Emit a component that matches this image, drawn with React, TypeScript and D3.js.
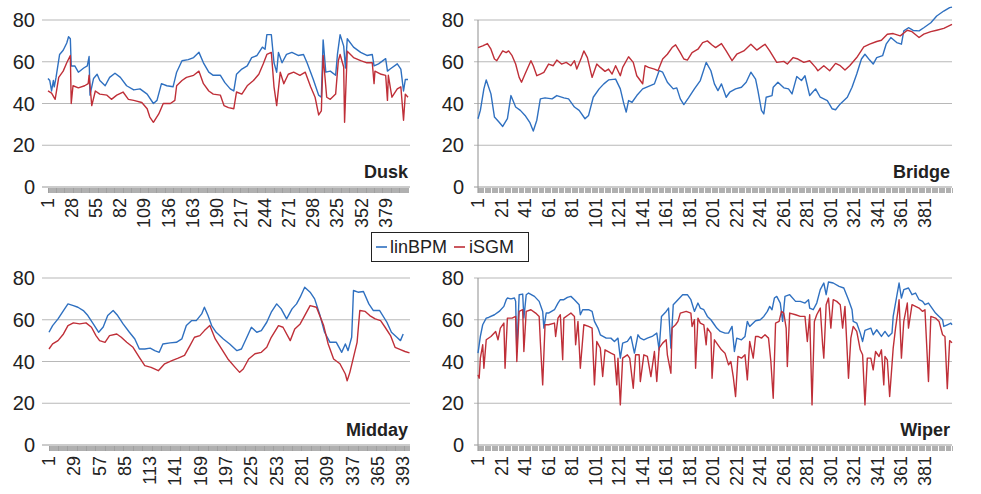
import React from 'react';
import * as d3 from 'd3';

// ---- data : [sample index, value] ----
const duskLinBPM: [number, number][] = [[1,52],[3,51],[5,46],[7,51],[8,48],[10,52.5],[14,63.5],[18,65.5],[22,69],[24,72],[26,71],[27,58],[31,58],[35,55],[41,57],[45,58],[47,62.5],[48,44],[52,52],[56,54],[59,51],[65,48.5],[70,52.5],[76,54.5],[82,52.5],[89,48.5],[97,46.5],[104,47],[112,44.5],[119,40],[123,41.5],[128,49.5],[134,48.5],[141,48],[145,55],[151,60.5],[158,61],[164,62],[170,64.5],[175,59.5],[181,55],[186,53.5],[194,53.5],[199,50],[205,47],[209,46],[212,54],[218,56.5],[224,58],[229,62],[235,63],[241,67],[244,66],[246,73],[251,73],[254,59.5],[257,55],[259,64.5],[263,59.5],[268,63.5],[274,64.5],[281,63],[287,63.5],[291,59.5],[298,51.5],[304,44],[307,43],[309,70.5],[312,55],[317,55.5],[323,53.5],[325,63.5],[328,73],[332,67.5],[334,57],[336,71],[343,67],[351,64.5],[358,63],[364,63.5],[366,58],[371,59],[379,61.5],[381,55.5],[384,56.5],[392,59],[396,56.5],[399,46],[401,51.5],[404,51.5]];
const duskISGM: [number, number][] = [[1,46],[5,45],[9,42],[13,52.5],[18,55.5],[22,59.5],[26,63],[27,40],[29,48.5],[35,47.5],[42,48.5],[46,49.5],[47,53.5],[50,39],[54,46],[59,44.5],[67,44],[72,42],[78,44],[85,45.5],[91,42],[97,41.5],[106,40.5],[112,37.5],[115,33.5],[119,31],[125,35],[130,40],[138,40],[143,41.5],[145,48.5],[151,51],[156,52.5],[164,53.5],[170,55.5],[175,49.5],[181,46],[186,44.5],[194,44],[198,39],[203,38],[209,37.5],[212,45.5],[218,44.5],[224,48.5],[231,51],[237,54],[242,59],[246,63.5],[251,64.5],[254,48],[257,39],[261,55],[265,49.5],[270,54],[276,55],[283,53.5],[289,55],[295,48],[300,43],[304,34.5],[307,36.5],[309,63],[313,43],[317,42],[323,44.5],[326,60.5],[328,63.5],[332,57.5],[333,31],[336,65],[343,62],[351,60.5],[358,59.5],[364,59.5],[366,49.5],[367,55.5],[374,54],[379,53.5],[381,41.5],[382,53.5],[386,43],[392,47],[396,48],[399,32],[401,44.5],[404,43]];

const bridgeLinBPM: [number, number][] = [[1,32.7],[3,36.7],[6,47],[8,51.3],[12,44.6],[15,33.5],[19,31],[22,29],[26,32.7],[29,43.8],[33,38.3],[37,36.7],[41,34.3],[45,31],[48,26.8],[51,32],[54,42.2],[58,42.7],[64,42.2],[68,43.8],[74,42.7],[78,42.2],[83,38.3],[87,36.7],[92,32.7],[95,34.3],[99,43],[104,47],[108,49.4],[112,51.3],[118,51.7],[122,47],[125,39.8],[127,35.9],[129,41.4],[132,40.6],[136,43.8],[141,47],[145,48],[151,49.4],[155,55.7],[158,55],[162,50.2],[167,47],[170,47.5],[173,42.2],[176,39.5],[180,42.7],[185,47],[190,51],[195,59.7],[199,55.7],[202,49.4],[205,46.2],[208,49.4],[212,43],[215,45.4],[220,47],[225,47.8],[229,50.2],[233,55],[237,51.7],[239,46.2],[242,36.7],[244,35],[246,43],[251,43.8],[252,47.8],[256,50.2],[261,47.5],[265,47],[268,44.6],[272,52.9],[276,51],[279,53.3],[283,43.8],[288,47],[292,43],[298,41.4],[302,37.5],[305,37],[309,39.8],[315,43],[319,47.8],[323,54.1],[327,61.3],[330,63.6],[334,60.8],[337,58.9],[340,62],[345,62.9],[348,68.4],[352,71.6],[357,69.2],[361,68.4],[363,74.8],[367,76.3],[371,75],[376,74.8],[380,76.3],[386,78.7],[391,81.9],[397,84.3],[402,85.9],[404,86.2]];
const bridgeISGM: [number, number][] = [[1,66.8],[5,67.6],[9,68.7],[12,66],[15,61.3],[17,60.5],[22,65.2],[25,64.4],[27,65.2],[30,62.9],[33,58.9],[36,52.5],[38,50.2],[41,54.1],[46,60.5],[48,58.1],[51,53.3],[54,54.1],[57,54.9],[61,58.9],[65,58.1],[68,60.8],[72,58.9],[76,59.7],[80,58.1],[83,60.5],[85,56.5],[89,62],[91,65.2],[94,62],[98,52.5],[102,58.9],[105,57.3],[109,55.4],[112,56.5],[115,54.1],[118,58.1],[122,53.3],[124,57.3],[129,62.4],[133,59.7],[136,53.3],[139,51],[141,49.4],[143,58.1],[146,57.3],[151,56.5],[154,55.7],[158,61.3],[162,63.6],[166,66.8],[169,68.1],[173,64.4],[176,61.3],[179,60.8],[183,64.4],[188,66],[192,69.2],[196,70],[200,68],[203,66.8],[208,68.7],[212,65.2],[217,60.5],[221,63.6],[227,65.2],[233,68.4],[238,65.6],[245,68.4],[249,65.2],[255,59.7],[261,60.2],[264,58.9],[269,62],[273,61.3],[278,59.7],[283,60.5],[288,57.3],[290,55.7],[295,58.1],[300,55.7],[305,59.2],[309,58.1],[313,56],[317,58.1],[323,62],[329,67.1],[334,68.4],[340,69.7],[344,70.3],[349,73.2],[354,73.5],[360,72.4],[366,75.1],[370,74.4],[376,71.6],[380,73.2],[386,74.4],[391,75.1],[397,76],[404,77.9]];

const middayLinBPM: [number, number][] = [[1,54],[5,57.2],[11,60.4],[17,64.4],[22,67.6],[28,66.8],[33,66],[39,64.4],[44,62],[50,58],[56,54],[61,56.5],[66,62],[72,64.4],[77,62],[83,58],[90,54],[96,50.8],[101,46],[107,46],[113,46.4],[118,45.2],[123,44.4],[127,48.4],[135,48.9],[142,49.2],[148,50.8],[153,57.2],[159,59.6],[164,59.6],[170,62.8],[173,66],[177,62],[181,57.2],[186,54],[194,50.8],[201,48.4],[209,45.2],[214,46],[220,51.6],[225,56.4],[231,54],[236,54.8],[242,58.8],[247,63.6],[253,67.6],[258,65.2],[264,60.4],[270,65.2],[275,67.6],[279,70.8],[284,75.6],[290,73.2],[295,70],[301,62],[306,54],[312,49.2],[319,49.2],[325,44.4],[329,48.4],[332,45.2],[336,51.6],[338,74],[343,73.2],[349,73.5],[355,67.6],[360,64.4],[367,64.4],[375,58.8],[380,54],[386,51.6],[390,50],[393,53.2]];
const middayISGM: [number, number][] = [[1,46],[5,48.4],[11,50],[17,53.2],[22,57.2],[28,58.5],[35,58],[42,58.5],[48,56.4],[53,52.4],[57,50],[63,49.2],[68,52.4],[76,53.2],[81,51.6],[87,49.2],[94,46.8],[101,42],[107,38],[114,37.2],[122,35.6],[129,38.9],[137,40.4],[144,41.6],[151,42.9],[157,47.6],[162,51.6],[168,52.4],[173,54.8],[179,57.2],[185,50.8],[192,46],[199,41.2],[207,37.2],[212,34.8],[216,36.4],[222,41.2],[229,43.7],[236,44.4],[242,46.8],[247,51.6],[255,57.2],[260,56.4],[268,50],[273,55.6],[279,58],[284,62],[290,66.8],[297,66],[305,57.2],[310,48.4],[316,41.2],[323,38.9],[329,34],[331,30.8],[334,34.8],[338,42],[342,49.2],[345,64.4],[351,64],[356,62],[362,60.4],[368,59.6],[373,56.4],[379,52.4],[384,46.8],[390,45.7],[395,44.8],[400,44.1]];

const wiperLinBPM: [number, number][] = [[1,44],[3,52],[5,57.6],[8,60.8],[10,61.1],[15,62.4],[19,64],[23,66.4],[25,69.6],[26,70.4],[29,70],[32,70.4],[33,68.8],[34,44.8],[36,72],[39,72.3],[40,60.8],[42,72],[44,72.8],[49,71.2],[53,68.8],[56,64],[57,56],[59,63.2],[61,63.2],[66,64.8],[69,68],[71,69.6],[74,69.6],[77,70.7],[80,71.2],[83,69.6],[87,67.2],[88,62.4],[90,64.8],[95,64.8],[98,64],[100,59.2],[103,56],[105,52.8],[110,51.2],[114,51.2],[117,49.6],[120,51.2],[122,41.6],[124,48.8],[128,49.6],[131,52],[134,44],[137,52.8],[139,51.2],[142,50.4],[145,51.2],[149,52],[153,53.6],[155,45.6],[157,61.6],[161,64],[163,65.6],[165,46.4],[167,67.2],[171,69.6],[175,72],[179,72],[182,69.6],[185,64],[188,68],[190,65.6],[193,64.8],[196,61.6],[199,60],[202,57.6],[204,56],[207,54.4],[211,53.6],[214,53.6],[217,56.8],[219,44.8],[221,51.2],[225,50.4],[228,52],[230,59.2],[232,56.8],[237,59.5],[241,60],[244,61.6],[247,64],[249,66.4],[251,64.8],[253,70.4],[255,71.2],[258,68],[260,59.2],[262,71.2],[266,72],[271,68.8],[275,68.8],[279,68],[282,69.6],[283,65.6],[286,64.8],[289,68],[292,74.4],[295,77.6],[297,72],[299,78.1],[303,77.6],[308,76],[312,75.2],[316,69.6],[319,64.8],[320,59.2],[323,58.4],[326,53.6],[328,49.6],[330,54.9],[335,56],[337,52.8],[340,55.2],[344,52],[347,54.4],[350,52],[353,53.6],[354,61.6],[357,71.2],[359,77.6],[361,70.4],[363,74.4],[367,75.2],[370,72],[373,72.8],[376,69.6],[379,68.8],[381,67.2],[384,68],[387,65.6],[390,63.2],[393,61.6],[396,60],[397,56.8],[400,57.6],[403,58.4],[404,57.6]];
const wiperISGM: [number, number][] = [[1,33.6],[2,32],[3,41.6],[5,48],[6,36.8],[8,50.4],[12,52],[16,54.4],[18,50.4],[20,56],[23,58.4],[24,36.8],[26,60.8],[30,60.8],[33,61.6],[34,40],[36,64],[39,64.8],[40,44.8],[42,64],[46,64.8],[50,63.2],[53,61.6],[54,49.6],[56,28.8],[58,57.6],[61,57.6],[66,58.4],[67,52],[69,60.8],[71,62.4],[73,40.8],[74,60.8],[78,62.4],[80,63.2],[83,61.6],[84,48],[86,59.2],[88,36.8],[91,57.6],[95,56.8],[98,56],[100,28.8],[102,49.6],[105,46.4],[107,32.8],[109,45.6],[114,44],[117,43.2],[119,28.8],[120,41.6],[122,19.2],[124,41.6],[128,43.2],[130,41.6],[133,27.2],[135,43.2],[138,43.2],[139,30.4],[142,43.2],[145,42.4],[148,32.8],[151,44.8],[153,30.4],[155,46.4],[158,48.8],[161,50.4],[162,43.2],[165,34.4],[166,56],[169,57.6],[171,59.2],[173,63.2],[178,64],[182,63.2],[183,56.8],[185,60],[186,36.8],[188,60.8],[190,58.4],[193,57.6],[195,48],[196,56],[199,53.6],[200,32],[202,50.4],[205,48],[208,45.6],[211,44],[214,38.4],[216,40],[218,32.8],[220,23.2],[222,42.4],[225,41.6],[228,43.2],[230,31.2],[232,49.6],[235,41.6],[237,52],[239,52],[242,51.2],[245,52.8],[248,51.2],[250,40],[252,22.4],[254,58.4],[257,59.2],[259,64],[261,63.2],[263,56],[264,37.6],[266,63.2],[271,62.4],[275,61.6],[279,61.6],[281,49.6],[283,62.4],[285,19.2],[287,59.2],[289,62.4],[292,65.6],[294,48],[295,41.6],[297,67.2],[299,70.4],[301,56],[303,69.6],[306,68.8],[309,67.2],[311,56],[313,66.4],[316,32],[318,51.2],[320,56.8],[323,54.4],[326,45.6],[328,43.2],[330,19.2],[332,41.6],[335,41.6],[337,36],[339,44.8],[342,42.4],[344,45.6],[346,28.8],[347,42.4],[349,40.8],[351,23.2],[354,46.4],[356,56],[358,64],[359,69.6],[361,41.6],[363,59.2],[366,68],[367,56],[370,67.2],[373,66.4],[376,65.6],[379,64],[381,64.8],[384,30.4],[386,61.6],[390,60.8],[393,59.2],[396,52.8],[398,52],[400,27],[402,50],[404,49]];

const duskTicks = [1,28,55,82,109,136,163,190,217,244,271,298,325,352,379];
const middayTicks = [1,29,57,85,113,141,169,197,225,253,281,309,337,365,393];
const twentyTicks = [1,21,41,61,81,101,121,141,161,181,201,221,241,261,281,301,321,341,361,381];
const yTicks = [0, 20, 40, 60, 80];
const seriesNames = ['linBPM', 'iSGM'];

const BLUE = '#2f70c0';
const RED = '#bf2f38';
const FONT = 'Liberation Sans, Arial, Helvetica, sans-serif';

type PanelProps = {
  title: string; blue: [number, number][]; red: [number, number][];
  n: number; ticks: number[];
  gx: [number, number]; dx: [number, number]; y0: number; y80: number;
  axisLine: boolean; yLabelX: number;
};

const Panel = ({ title, blue, red, n, ticks, gx, dx, y0, y80, axisLine, yLabelX }: PanelProps) => {
  const x = d3.scaleLinear().domain([1, n]).range(dx);
  const y = d3.scaleLinear().domain([0, 80]).range([y0, y80]);
  const line = d3.line<[number, number]>().x(d => x(d[0])).y(d => y(d[1]));
  const all = d3.range(1, n + 1);
  return (
    <g>
      {yTicks.map(t => (
        <g key={t}>
          <line x1={gx[0] - (axisLine ? 4 : 0)} x2={gx[1]} y1={y(t)} y2={y(t)} stroke={t === 0 ? '#999' : '#b8b8b8'} strokeWidth={1.1} />
          <text x={yLabelX} y={y(t)} textAnchor="end" dominantBaseline="central" fontSize={20} fill="#222">{t}</text>
        </g>
      ))}
      {axisLine && <line x1={gx[0]} x2={gx[0]} y1={y80} y2={y0 + 6} stroke="#999" strokeWidth={1.1} />}
      <g shapeRendering="crispEdges">
        {all.map(i => (
          <line key={i} x1={x(i)} x2={x(i)} y1={y0 + 1} y2={y0 + 6} stroke="#9c9c9c" strokeWidth={0.8} />
        ))}
      </g>
      {ticks.map(t => (
        <text key={t} transform={`translate(${x(t)},${y0 + 11}) rotate(-90)`} textAnchor="end" dominantBaseline="central" fontSize={18} fill="#222">{t}</text>
      ))}
      <path d={line(blue) || ''} fill="none" stroke={BLUE} strokeWidth={1.4} strokeLinejoin="round" />
      <path d={line(red) || ''} fill="none" stroke={RED} strokeWidth={1.4} strokeLinejoin="round" />
      <text x={gx[1] - 2} y={y0 - 9} textAnchor="end" fontSize={18} fontWeight="bold" fill="#222">{title}</text>
    </g>
  );
};

export default function App() {
  return (
    <svg width={981} height={494} style={{ display: 'block', position: 'absolute', left: 0, top: 0, background: '#fff' }} fontFamily={FONT}>
      <rect width={981} height={494} fill="#fff" />
      <Panel title="Dusk" blue={duskLinBPM} red={duskISGM} n={404} ticks={duskTicks}
        gx={[42, 410]} dx={[48, 408]} y0={187} y80={20} axisLine={false} yLabelX={35} />
      <Panel title="Bridge" blue={bridgeLinBPM} red={bridgeISGM} n={404} ticks={twentyTicks}
        gx={[478, 952]} dx={[478, 952]} y0={187} y80={20} axisLine={true} yLabelX={464} />
      <Panel title="Midday" blue={middayLinBPM} red={middayISGM} n={400} ticks={middayTicks}
        gx={[42, 410]} dx={[49, 409.5]} y0={445} y80={278} axisLine={false} yLabelX={35} />
      <Panel title="Wiper" blue={wiperLinBPM} red={wiperISGM} n={404} ticks={twentyTicks}
        gx={[478, 952]} dx={[478, 952]} y0={445} y80={278} axisLine={true} yLabelX={464} />
      <g>
        <rect x={371.5} y={232.5} width={157} height={29} fill="#fff" stroke="#222" strokeWidth={1} />
        <line x1={376} x2={387} y1={247} y2={247} stroke={BLUE} strokeWidth={1.6} />
        <text x={390} y={247} dominantBaseline="central" fontSize={18} fill="#222">{seriesNames[0]}</text>
        <line x1={454} x2={465} y1={247} y2={247} stroke={RED} strokeWidth={1.6} />
        <text x={469} y={247} dominantBaseline="central" fontSize={18} fill="#222">{seriesNames[1]}</text>
      </g>
    </svg>
  );
}
